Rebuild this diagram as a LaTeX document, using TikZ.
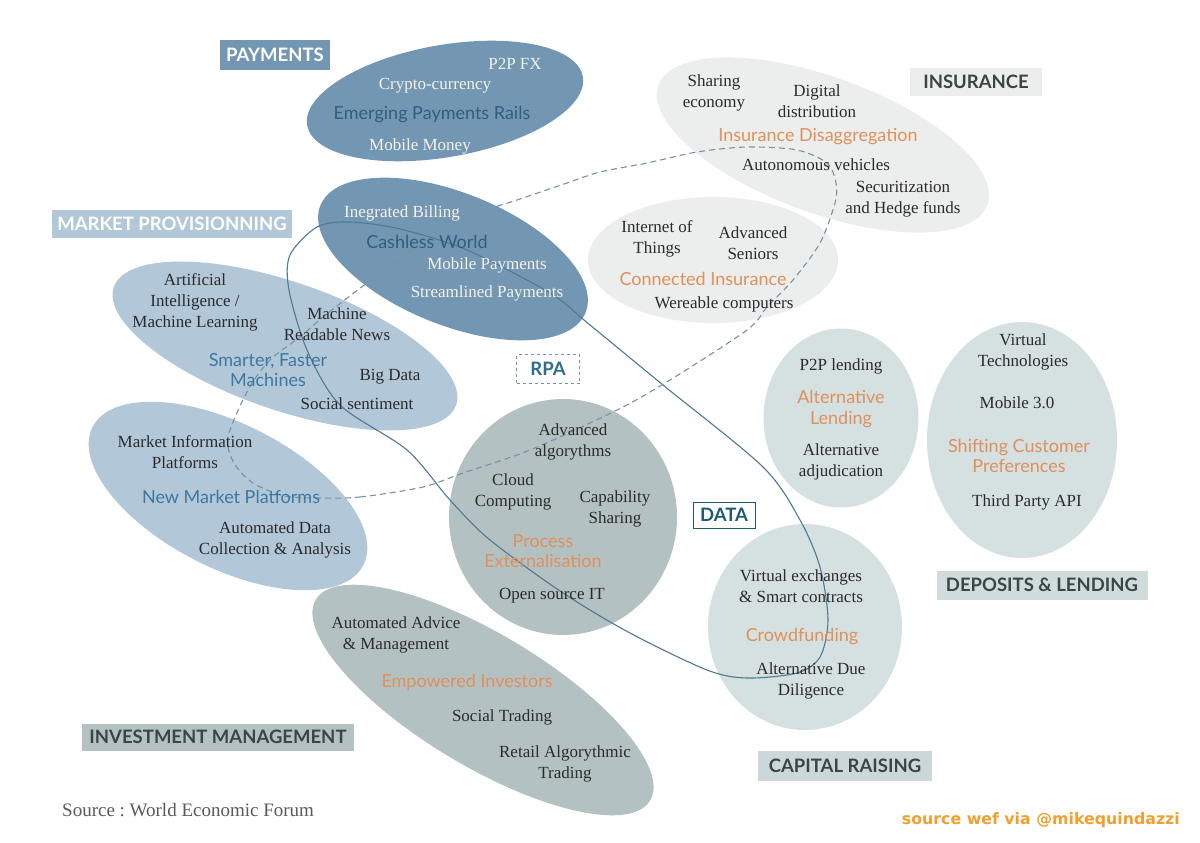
\documentclass[tikz,border=0pt]{standalone}
\usepackage{fontspec}
\setmainfont{Liberation Serif}
\newfontfamily\latofont{Lato}
\newfontfamily\dejafont{DejaVu Sans}
\usetikzlibrary{shapes.geometric}
\definecolor{cPay}{HTML}{7397B3}
\definecolor{cSmart}{HTML}{B2C7D8}
\definecolor{cProc}{HTML}{B4C1C2}
\definecolor{cLend}{HTML}{D5E0E1}
\definecolor{cIns}{HTML}{ECEEED}
\definecolor{cDark}{HTML}{2B2B2B}
\definecolor{cCream}{HTML}{F4F2EA}
\definecolor{cBlueA}{HTML}{2F5F80}
\definecolor{cBlueB}{HTML}{3D78A0}
\definecolor{cOrange}{HTML}{E0905A}
\definecolor{cLabDark}{HTML}{3B4447}
\definecolor{cSolid}{HTML}{4D7A94}
\definecolor{cDash}{HTML}{7792A4}
\definecolor{cRPA}{HTML}{2D6C8C}
\definecolor{cData}{HTML}{1F5A73}
\definecolor{cSrc}{HTML}{5A5A5A}
\definecolor{cWef}{HTML}{F0A030}
\frenchspacing
\begin{document}
\begin{tikzpicture}[x=1pt,y=1pt,
  ell/.style={ellipse, inner sep=0, draw=none},
  srtxt/.style={font=\fontsize{17}{21}\selectfont, text=cDark, align=center, inner sep=0},
  wttxt/.style={srtxt, text=cCream},
  bluea/.style={font=\latofont\fontsize{18}{20.5}\selectfont, text=cBlueA, align=center, inner sep=0},
  blueb/.style={bluea, text=cBlueB},
  orng/.style={bluea, text=cOrange},
  labbox/.style={rectangle, inner sep=0, font=\latofont\bfseries\fontsize{18.5}{20}\selectfont}
]
\useasboundingbox (0,0) rectangle (1200,-843);
\fill[white] (0,0) rectangle (1200,-843);

% ellipses
\node[ell, fill=cPay, minimum width=280, minimum height=112, rotate=10] (epay) at (445,-101) {};
\node[ell, fill=cPay, minimum width=286, minimum height=132, rotate=-22] (ecash) at (453,-259) {};
\node[ell, fill=cSmart, minimum width=362, minimum height=128, rotate=-19] (esmart) at (285,-346) {};
\node[ell, fill=cSmart, minimum width=304, minimum height=144, rotate=-27] (enew) at (228,-496) {};
\node[ell, fill=cProc, minimum width=228, minimum height=236] (eproc) at (563,-517) {};
\node[ell, fill=cProc, minimum width=390, minimum height=132, rotate=-31] (einv) at (483,-700) {};
\node[ell, fill=cIns, minimum width=350, minimum height=136, rotate=-20] (eins) at (823,-145) {};
\node[ell, fill=cIns, minimum width=250, minimum height=126] (econ) at (713,-260) {};
\node[ell, fill=cLend, minimum width=155, minimum height=179] (elend) at (841,-418) {};
\node[ell, fill=cLend, minimum width=190, minimum height=236] (eshift) at (1022,-440) {};
\node[ell, fill=cLend, minimum width=194, minimum height=206] (ecrowd) at (805,-627) {};

% loops
\draw[cSolid, line width=1.1pt] plot[smooth cycle] coordinates {
 (290,-255) (317,-227) (350,-222) (400,-229) (467,-250) (550,-293) (590,-325)
 (663,-385) (763,-467) (800,-520) (820,-567) (828,-620) (820,-657) (797,-673)
 (747,-678) (707,-670) (630,-633) (563,-593) (490,-540) (450,-500) (407,-450)
 (340,-405) (307,-350) (289,-290)};
\draw[cDash, line width=1.1pt, dash pattern=on 6pt off 4pt] plot[smooth cycle] coordinates {
 (320,-498) (360,-497) (423,-487) (463,-473) (530,-450) (617,-410) (670,-380)
 (747,-330) (767,-307) (793,-280) (820,-243) (835,-203) (836,-183) (827,-163)
 (797,-150) (747,-147) (697,-152) (647,-163) (600,-172) (567,-183) (517,-200)
 (467,-217) (417,-247) (367,-283) (323,-317) (300,-337) (270,-360) (248,-390)
 (228,-437) (234,-463) (253,-483) (285,-496)};

% category labels
\node[labbox, fill=cPay, text=white, minimum width=110, minimum height=30] (lpay) at (275,-55) {PAYMENTS};
\node[labbox, fill=cSmart, text=white, minimum width=240, minimum height=28] (lmkt) at (172,-224) {MARKET PROVISIONNING};
\node[labbox, fill=cIns, text=cLabDark, minimum width=132, minimum height=28] (lins) at (976,-82) {INSURANCE};
\node[labbox, draw=cDash, dashed, line width=1pt, text=cRPA, minimum width=63, minimum height=29] (lrpa) at (548,-369) {RPA};
\node[labbox, draw=cData, line width=1pt, text=cData, minimum width=62, minimum height=26] (ldata) at (724,-515) {DATA};
\node[labbox, fill=cLend!85!cProc, text=cLabDark, minimum width=211, minimum height=29] (ldep) at (1042,-585) {DEPOSITS \& LENDING};
\node[labbox, fill=cProc, text=cLabDark, minimum width=272, minimum height=27] (linv) at (218,-737) {INVESTMENT MANAGEMENT};
\node[labbox, fill=cLend!70!cProc, text=cLabDark, minimum width=174, minimum height=30] (lcap) at (845,-766) {CAPITAL RAISING};

% payments
\node[wttxt] (p1) at (515,-64) {P2P FX};
\node[wttxt] (p2) at (435,-86) {Crypto-currency};
\node[bluea] (p3) at (432,-115) {Emerging Payments Rails};
\node[wttxt] (p4) at (420,-146) {Mobile Money};
% cashless
\node[wttxt] (c1) at (402,-213) {Inegrated Billing};
\node[bluea] (c2) at (427,-242) {Cashless World};
\node[wttxt] (c3) at (487,-265) {Mobile Payments};
\node[wttxt] (c4) at (487,-293) {Streamlined Payments};
% smarter
\node[srtxt] (s1) at (195,-302) {Artificial\\Intelligence /\\Machine Learning};
\node[srtxt] (s2) at (337,-324) {Machine\\Readable News};
\node[blueb] (s3) at (268,-370) {Smarter, Faster\\Machines};
\node[srtxt] (s4) at (390,-377) {Big Data};
\node[srtxt] (s5) at (357,-404) {Social sentiment};
% new market
\node[srtxt] (n1) at (185,-452) {Market Information\\Platforms};
\node[blueb] (n2) at (231,-497) {New Market Platforms};
\node[srtxt] (n3) at (275,-540) {Automated Data\\Collection \& Analysis};
% process
\node[srtxt] (x1) at (573,-442) {Advanced\\algorythms};
\node[srtxt] (x2) at (513,-492) {Cloud\\Computing};
\node[srtxt] (x3) at (615,-509) {Capability\\Sharing};
\node[orng] (x4) at (543,-551) {Process\\Externalisation};
\node[srtxt] (x5) at (552,-596) {Open source IT};
% investment
\node[srtxt] (i1) at (396,-635) {Automated Advice\\\& Management};
\node[orng] (i2) at (467,-682) {Empowered Investors};
\node[srtxt] (i3) at (502,-717) {Social Trading};
\node[srtxt] (i4) at (565,-764) {Retail Algorythmic\\Trading};
% insurance
\node[srtxt] (d1) at (714,-93) {Sharing\\economy};
\node[srtxt] (d2) at (817,-101) {Digital\\distribution};
\node[orng] (d3) at (818,-137) {Insurance Disaggregation};
\node[srtxt] (d4) at (816,-165) {Autonomous vehicles};
\node[srtxt] (d5) at (903,-199) {Securitization\\and Hedge funds};
% connected
\node[srtxt] (k1) at (657,-239) {Internet of\\Things};
\node[srtxt] (k2) at (753,-243) {Advanced\\Seniors};
\node[orng] (k3) at (703,-279) {Connected Insurance};
\node[srtxt] (k4) at (724,-304) {Wereable computers};
% lending
\node[srtxt] (a1) at (841,-366) {P2P lending};
\node[orng] (a2) at (841,-409) {Alternative\\Lending};
\node[srtxt] (a3) at (841,-462) {Alternative\\adjudication};
% shifting
\node[srtxt] (h1) at (1023,-352) {Virtual\\Technologies};
\node[srtxt] (h2) at (1017,-403) {Mobile 3.0};
\node[orng] (h3) at (1019,-456) {Shifting Customer\\Preferences};
\node[srtxt] (h4) at (1027,-502) {Third Party API};
% crowdfunding
\node[srtxt] (f1) at (801,-586) {Virtual exchanges\\\& Smart contracts};
\node[orng] (f2) at (802,-637) {Crowdfunding};
\node[srtxt] (f3) at (811,-681) {Alternative Due\\Diligence};

% sources
\node[srtxt, text=cSrc, font=\fontsize{19}{22}\selectfont, anchor=west] (src) at (62,-810) {Source : World Economic Forum};
\node[inner sep=0, text=cWef, font=\dejafont\bfseries\fontsize{15.8}{18}\selectfont, anchor=east] (wef) at (1180,-820) {source wef via @mikequindazzi};
\end{tikzpicture}
\end{document}
